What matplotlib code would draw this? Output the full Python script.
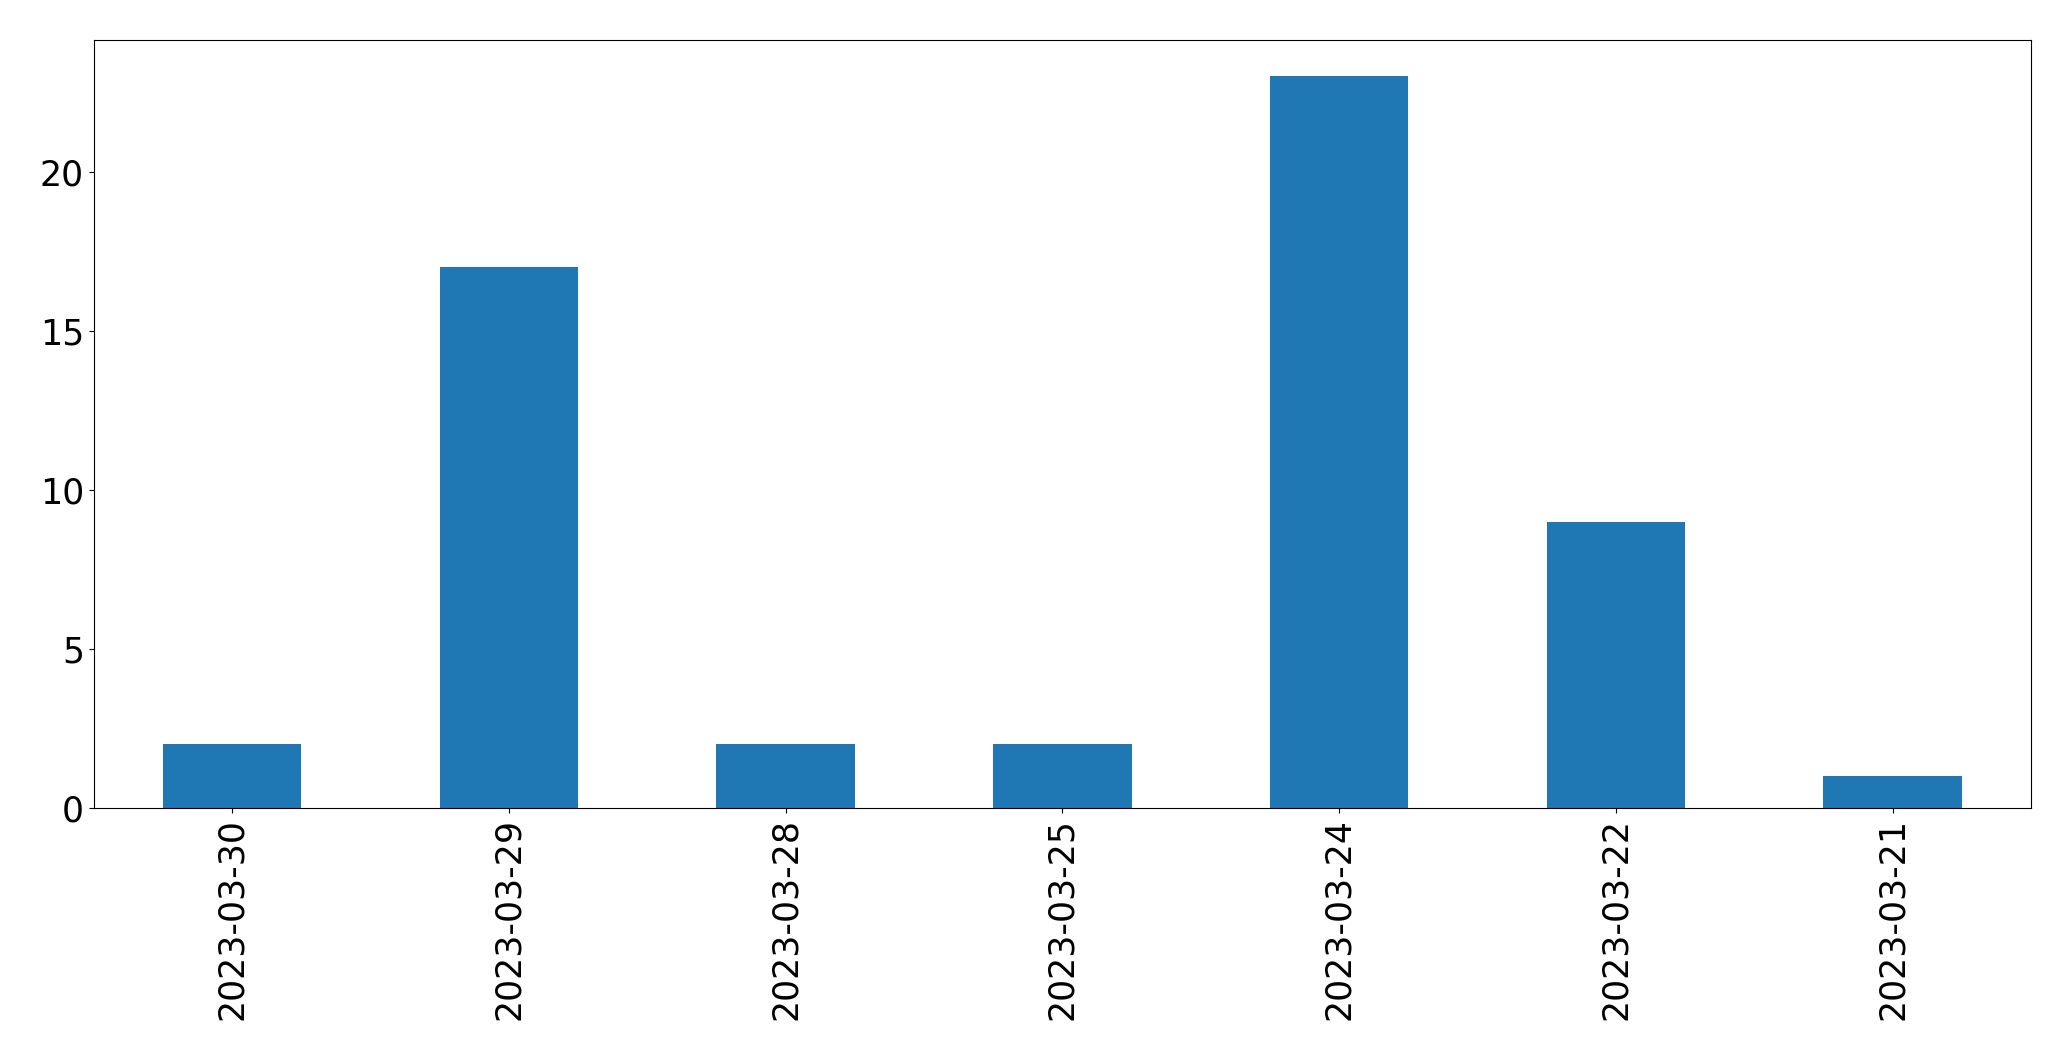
import matplotlib
matplotlib.use("Agg")
import matplotlib.pyplot as plt

dates = ["2023-03-30", "2023-03-29", "2023-03-28", "2023-03-25", "2023-03-24", "2023-03-22", "2023-03-21"]
counts = [2, 17, 2, 2, 23, 9, 1]

fig = plt.figure(figsize=(20.71, 10.61), dpi=100)
ax = fig.add_axes([0.0453, 0.2384, 0.9807 - 0.0453, 0.9627 - 0.2384])
x = list(range(len(dates)))
ax.bar(x, counts, width=0.5, color="#1f77b4")
ax.set_xlim(-0.5, len(dates) - 0.5)
ax.set_ylim(0, max(counts) * 1.05)
ax.set_xticks(x)
ax.set_xticklabels(dates, rotation=90)
ax.set_yticks([0, 5, 10, 15, 20])
ax.tick_params(labelsize=25)
fig.savefig("out.png", dpi=100)
